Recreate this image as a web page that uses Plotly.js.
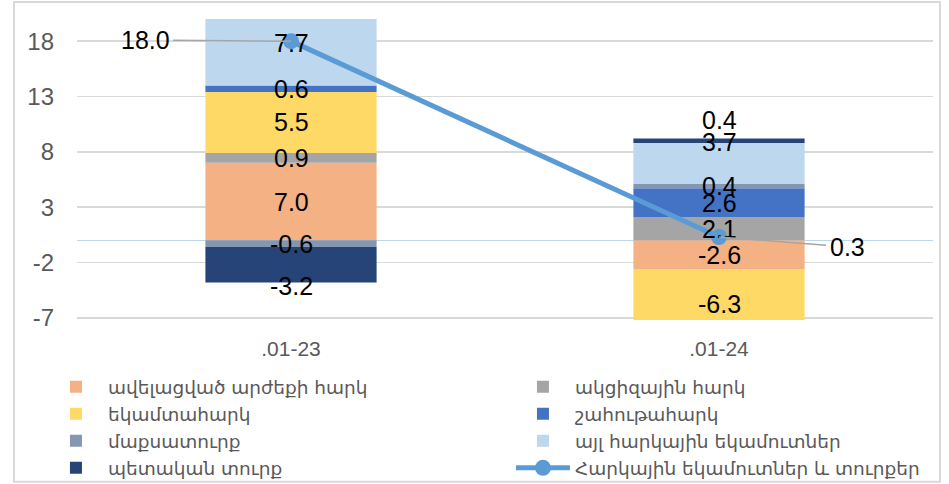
<!DOCTYPE html>
<html><head><meta charset="utf-8">
<script src="https://cdn.plot.ly/plotly-3.0.1.min.js"></script>
<style>html,body{margin:0;padding:0;background:#fff}#chart{width:949px;height:484px}</style>
</head><body><div id="chart"></div>
<script>
// ---- data ----
const categories = ['.01-23', '.01-24'];
const vatNames = 'ավելացված արժեքի հարկ';
const vat = [7.0, -2.6];
const exciseName = 'ակցիզային հարկ';
const excise = [0.9, 2.1];
const incomeName = 'եկամտահարկ';
const incomeTax = [5.5, -6.3];
const profitName = 'շահութահարկ';
const profitTax = [0.6, 2.6];
const customsName = 'մաքսատուրք';
const customs = [-0.6, 0.4];
const otherName = 'այլ հարկային եկամուտներ';
const otherTax = [7.7, 3.7];
const dutyName = 'պետական տուրք';
const stateDuty = [-3.2, 0.4];
const totalName = 'Հարկային եկամուտներ և տուրքեր';
const totalRevenue = [18.0, 0.3];
const yTickVals = [-7, -2, 3, 8, 13, 18];
const yTickText = ['-7', '-2', '3', '8', '13', '18'];

// ---- styles ----
const series = [
  {name: vatNames, y: vat, color: '#F4B183'},
  {name: exciseName, y: excise, color: '#A5A5A5'},
  {name: incomeName, y: incomeTax, color: '#FFD966'},
  {name: profitName, y: profitTax, color: '#4472C4'},
  {name: customsName, y: customs, color: '#8497B0'},
  {name: otherName, y: otherTax, color: '#BDD7EE'},
  {name: dutyName, y: stateDuty, color: '#264478'}
];
// manual label nudges (pixels), keyed "series-category"
const labelShift = {'6-0': -21, '5-1': 21, '6-1': 21};

const traces = series.map(s => ({
  type: 'bar', x: categories, y: s.y, name: s.name,
  marker: {color: s.color, line: {width: 0}},
  hoverinfo: 'none'
}));
traces.push({
  type: 'scatter', mode: 'lines+markers', x: categories, y: totalRevenue, name: totalName,
  line: {color: '#5B9BD5', width: 5}, marker: {color: '#5B9BD5', size: 16},
  cliponaxis: false, hoverinfo: 'none'
});

// labels at the middle of each stacked segment
const annotations = [];
categories.forEach((c, j) => {
  let pos = 0, neg = 0;
  series.forEach((s, i) => {
    const v = s.y[j];
    let mid;
    if (v >= 0) { mid = pos + v / 2; pos += v; } else { mid = neg + v / 2; neg += v; }
    annotations.push({
      x: c, y: mid, xref: 'x', yref: 'y', text: v.toFixed(1), showarrow: false,
      font: {size: 25, color: '#000000', family: 'Liberation Sans, Arial, sans-serif'},
      yshift: labelShift[i + '-' + j] || 0
    });
  });
});
const totalOffsets = [[-146, -1], [128, 10]];
categories.forEach((c, j) => {
  annotations.push({
    x: c, y: totalRevenue[j], xref: 'x', yref: 'y', text: totalRevenue[j].toFixed(1),
    showarrow: true, arrowhead: 0, arrowwidth: 1.5, arrowcolor: '#A6A6A6',
    ax: totalOffsets[j][0], ay: totalOffsets[j][1], standoff: 0, startstandoff: 2,
    font: {size: 25, color: '#000000', family: 'Liberation Sans, Arial, sans-serif'}
  });
});

const layout = {
  width: 949, height: 484,
  margin: {l: 77, r: 16, t: 19, b: 164, autoexpand: false},
  barmode: 'relative', bargap: 0.6,
  paper_bgcolor: '#ffffff', plot_bgcolor: '#ffffff',
  font: {family: 'Liberation Sans, Arial, sans-serif', color: '#595959'},
  showlegend: true,
  xaxis: {type: 'category', range: [-0.5, 1.5], tickfont: {size: 21, color: '#595959'},
          ticks: '', ticklabelstandoff: 14, showgrid: false, zeroline: false, showline: false, fixedrange: true},
  yaxis: {range: [-7.2, 20], tickmode: 'array', tickvals: yTickVals, ticktext: yTickText,
          tickfont: {size: 24, color: '#595959'}, ticks: '', ticklabelstandoff: 22,
          showgrid: true, gridcolor: '#D9D9D9', gridwidth: 1.5,
          zeroline: true, zerolinecolor: '#BDD7EE', zerolinewidth: 1.5, showline: false, fixedrange: true},
  legend: {orientation: 'h', x: -0.0386, xanchor: 'left', y: -0.16, yanchor: 'top',
           entrywidth: 398, entrywidthmode: 'pixels', itemwidth: 54, traceorder: 'normal',
           font: {size: 18.5, family: 'DejaVu Sans, Noto Sans, sans-serif', color: '#595959'},
           bgcolor: 'rgba(0,0,0,0)'},
  annotations: annotations,
  shapes: [{type: 'rect', xref: 'paper', yref: 'paper', x0: -0.0736, x1: 1.0082, y0: -0.537, y1: 1.0564,
            line: {color: '#D9D9D9', width: 2}, fillcolor: 'rgba(0,0,0,0)', layer: 'below'}]
};
Plotly.newPlot('chart', traces, layout, {staticPlot: true, displayModeBar: false});
</script>
</body></html>
